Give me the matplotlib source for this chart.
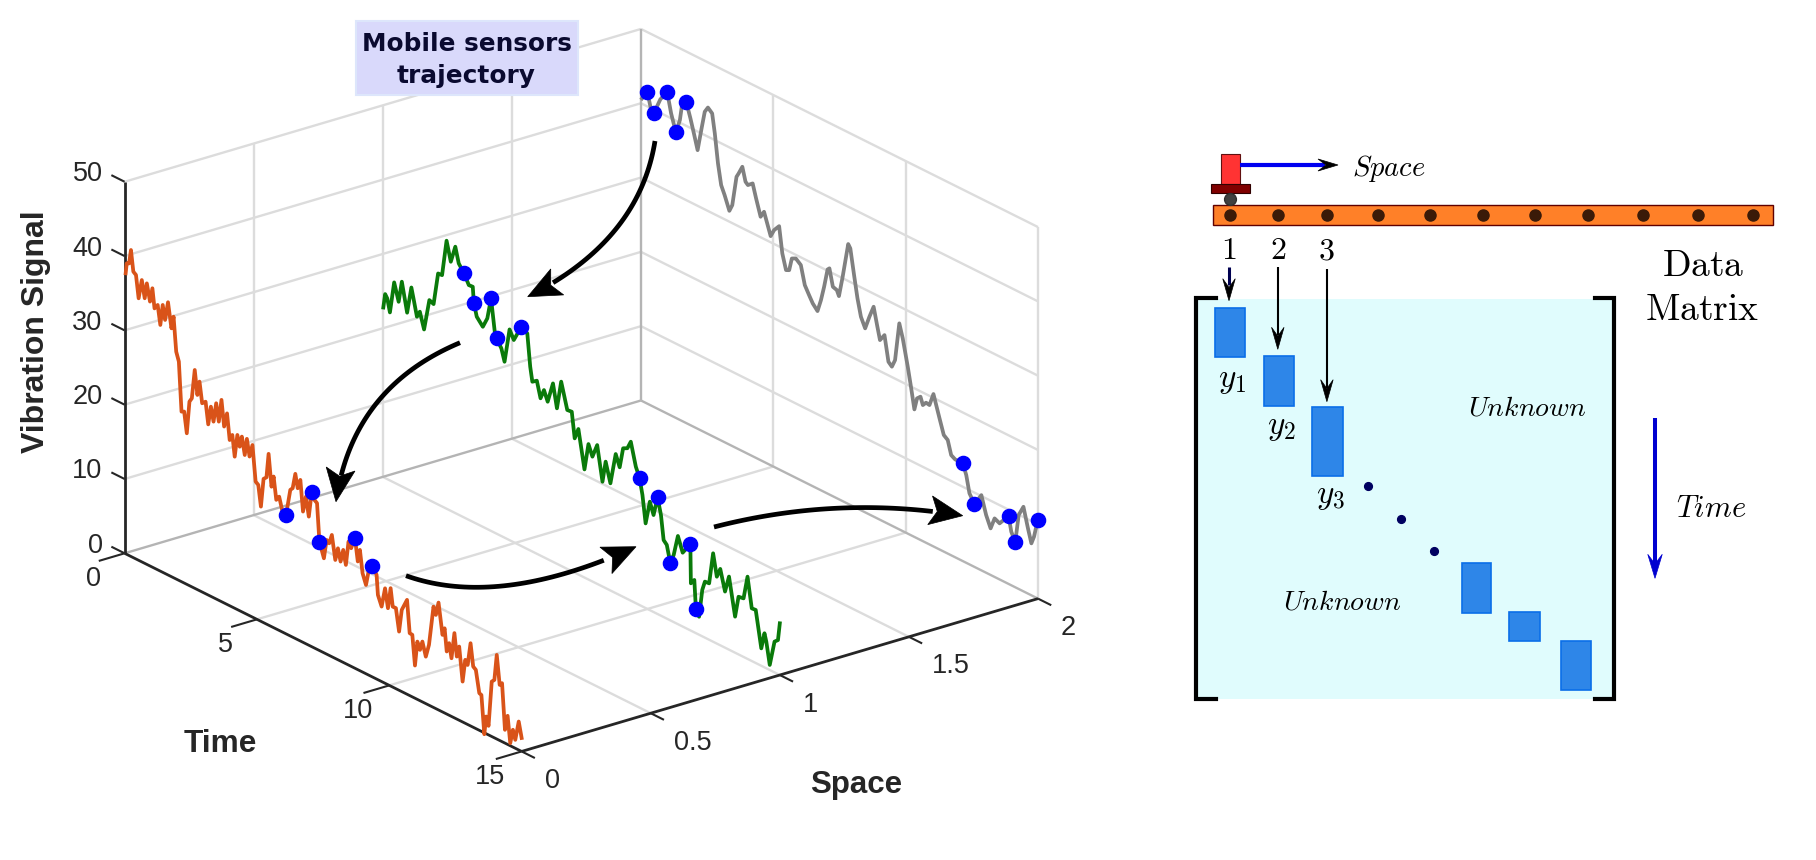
# Mobile sensor trajectories on the left (3D) and the data matrix sketch on the right
import numpy as np
import matplotlib
matplotlib.use("Agg")
import matplotlib.pyplot as plt
from matplotlib.patches import Rectangle, Polygon
from mpl_toolkits.mplot3d import proj3d

plt.rcParams['font.family'] = ['Liberation Sans', 'DejaVu Sans']
plt.rcParams['mathtext.fontset'] = 'cm'

# Trajectories. Each one sits at a fixed space position.
orange_space = 0
orange_time = [.04, .08, .17, .24, .33, .43, .53, .65, .76, .84, .96, 1.05, 1.13, 1.25, 1.35, 1.44, 1.53, 1.64, 1.77,
               1.85, 1.95, 2.05, 2.15, 2.25, 2.35, 2.45, 2.54, 2.65, 2.75, 2.83, 2.93, 3.06, 3.16, 3.26, 3.36, 3.46,
               3.56, 3.66, 3.76, 3.87, 3.97, 4.07, 4.16, 4.26, 4.35, 4.43, 4.54, 4.62, 4.72, 4.83, 4.95, 5.05, 5.15,
               5.25, 5.36, 5.44, 5.55, 5.63, 5.73, 5.84, 5.95, 6.10, 6.26, 6.35, 6.45, 6.54, 6.64, 6.74, 6.85, 6.96,
               7.07, 7.17, 7.27, 7.36, 7.53, 7.63, 7.73, 7.83, 7.96, 8.06, 8.16, 8.26, 8.36, 8.46, 8.56, 8.70, 8.81,
               8.89, 8.99, 9.12, 9.24, 9.36, 9.52, 9.57, 9.71, 9.84, 9.95, 10.05, 10.13, 10.25, 10.37, 10.47, 10.67,
               10.77, 10.87, 10.97, 11.06, 11.16, 11.25, 11.38, 11.50, 11.67, 11.76, 11.86, 12.01, 12.09, 12.17,
               12.26, 12.35, 12.46, 12.55, 12.64, 12.77, 12.87, 12.96, 13.07, 13.17, 13.27, 13.40, 13.48, 13.59,
               13.66, 13.75, 13.87, 13.97, 14.06, 14.17, 14.26, 14.37, 14.47, 14.57, 14.67, 14.76, 14.89, 15.0]
orange_vals = [37.75, 39.16, 39.32, 41.24, 38.49, 38.22, 35.26, 37.93, 35.67, 37.82, 35.58, 37.53, 34.97, 35.64, 33.13,
               35.98, 34.12, 36.70, 33.42, 35.13, 30.60, 29.44, 22.89, 23.07, 20.33, 24.77, 25.37, 29.38, 26.20, 28.13,
               25.40, 25.84, 22.97, 25.53, 23.69, 26.34, 24.05, 27.15, 23.74, 25.71, 22.30, 23.16, 20.40, 23.50, 22.08,
               23.58, 21.30, 23.61, 21.41, 23.16, 18.45, 18.18, 15.44, 19.35, 19.75, 23.05, 18.83, 20.34, 17.38, 18.00,
               16.41, 16.01, 19.66, 20.05, 22.16, 20.38, 21.68, 17.60, 19.80, 17.31, 20.88, 19.94, 19.67, 14.66, 12.71,
               15.36, 15.09, 16.39, 13.25, 15.00, 13.39, 15.14, 13.30, 16.62, 15.90, 17.58, 14.56, 16.26, 13.30, 11.95,
               14.42, 14.98, 14.02, 11.41, 10.09, 12.78, 10.30, 13.17, 10.83, 10.84, 7.90, 10.99, 12.70, 8.40, 8.35,
               4.40, 7.78, 6.84, 8.12, 6.32, 8.13, 13.57, 12.61, 14.45, 10.37, 11.40, 8.42, 9.70, 7.83, 11.41, 8.41,
               9.92, 5.44, 8.54, 8.01, 11.13, 8.17, 7.90, 5.00, 4.89, -0.19, 2.32, 1.22, 7.39, 7.79, 11.32, 7.48, 7.87,
               1.79, 3.85, 0.35, 2.33, 1.13, 3.83, 1.81]
orange_sensor_time = [6.10, 7.07, 7.36, 8.70, 9.36]
orange_sensor_vals = [16.01, 20.88, 14.66, 17.58, 14.98]

green_space = 1
green_time = [.02, .09, .17, .27, .43, .60, .72, .92, 1.08, 1.16, 1.29, 1.40, 1.56, 1.76, 1.92, 2.09, 2.24, 2.41, 2.57,
              2.74, 2.87, 3.07, 3.25, 3.40, 3.44, 3.55, 3.78, 3.95, 4.09, 4.23, 4.30, 4.48, 4.60, 4.79, 4.95, 5.22,
              5.46, 5.57, 5.65, 5.82, 5.96, 6.09, 6.23, 6.43, 6.58, 6.74, 6.97, 7.14, 7.25, 7.39, 7.62, 7.77, 7.92,
              8.10, 8.30, 8.42, 8.60, 8.80, 8.95, 9.08, 9.24, 9.37, 9.56, 9.70, 9.81, 9.93, 10.09, 10.23, 10.38, 10.51,
              10.61, 10.73, 10.86, 10.99, 11.15, 11.33, 11.62, 11.64, 11.77, 11.83, 11.95, 12.07, 12.17, 12.33, 12.48,
              12.62, 12.75, 12.93, 13.08, 13.31, 13.44, 13.63, 13.78, 13.94, 14.09, 14.30, 14.42, 14.49, 14.62, 14.80,
              14.93, 15.0]
green_vals = [22.83, 24.76, 24.31, 22.61, 26.94, 24.63, 27.55, 23.73, 27.41, 26.08, 23.85, 24.72, 22.61, 26.92, 26.67,
              31.09, 31.13, 36.07, 33.52, 35.85, 33.83, 32.84, 31.59, 31.63, 29.55, 27.87, 26.92, 28.36, 31.29, 27.06,
              26.27, 25.26, 23.67, 28.36, 27.22, 29.39, 29.01, 24.73, 22.85, 23.29, 21.17, 22.51, 21.19, 24.01, 20.92,
              24.80, 21.39, 21.46, 18.07, 19.58, 14.55, 18.23, 16.80, 18.68, 14.10, 17.02, 14.42, 18.72, 17.20, 19.99,
              20.28, 21.39, 18.37, 17.09, 15.01, 11.39, 14.60, 13.05, 15.70, 13.54, 10.36, 9.92, 7.76, 9.02, 11.87,
              9.94, 11.62, 6.37, 7.05, 3.21, 2.42, 6.24, 7.54, 7.59, 11.90, 9.00, 10.28, 7.55, 9.84, 4.85, 7.76, 7.88,
              11.07, 7.09, 7.14, 2.34, 4.59, 3.58, 0.68, 4.14, 4.58, 6.96]
green_sensor_time = [3.07, 3.44, 4.09, 4.30, 5.22, 9.70, 10.38, 10.86, 11.62, 11.83]
green_sensor_vals = [32.84, 29.55, 31.29, 26.27, 29.39, 17.09, 15.70, 7.76, 11.62, 3.21]

gray_space = 2
gray_time = [.04, .24, .36, .50, .63, .73, .99, 1.14, 1.32, 1.47, 1.56, 1.71, 1.87, 2.00, 2.14, 2.29, 2.41, 2.53, 2.69,
             2.79, 2.91, 3.03, 3.16, 3.34, 3.45, 3.61, 3.69, 3.83, 3.95, 4.04, 4.22, 4.35, 4.52, 4.65, 4.90, 5.03,
             5.22, 5.34, 5.48, 5.60, 5.70, 5.85, 6.04, 6.19, 6.35, 6.49, 6.67, 6.80, 6.92, 7.05, 7.12, 7.25, 7.40,
             7.48, 7.62, 7.83, 7.91, 8.06, 8.18, 8.31, 8.47, 8.63, 8.79, 8.92, 9.03, 9.20, 9.35, 9.48, 9.60, 9.76,
             9.89, 10.08, 10.20, 10.33, 10.43, 10.56, 10.65, 10.77, 10.90, 11.05, 11.28, 11.44, 11.59, 11.72, 11.87,
             12.16, 12.29, 12.41, 12.60, 12.86, 13.04, 13.21, 13.36, 13.55, 13.89, 13.99, 14.14, 14.27, 14.45, 14.62,
             14.75, 14.85, 14.99, 15.0]
gray_vals = [40.72, 41.97, 40.15, 39.60, 40.87, 41.81, 43.29, 40.65, 38.41, 40.34, 42.73, 43.23, 41.27, 39.49, 37.49,
             40.68, 43.14, 43.92, 43.41, 40.90, 37.07, 34.37, 33.26, 31.46, 32.42, 36.52, 37.11, 38.26, 36.46, 36.17,
             36.71, 34.92, 32.76, 33.66, 30.83, 31.87, 32.74, 29.29, 27.29, 27.49, 29.24, 29.51, 28.96, 26.53, 25.48,
             24.60, 23.89, 25.59, 27.61, 30.16, 30.44, 28.19, 28.01, 27.34, 30.19, 34.97, 34.52, 30.98, 28.28, 26.04,
             24.76, 26.60, 28.24, 26.00, 24.18, 25.15, 21.83, 21.40, 22.50, 27.73, 25.94, 22.45, 19.99, 17.16, 18.82,
             19.28, 18.31, 18.85, 18.76, 20.51, 17.64, 15.69, 15.28, 13.48, 13.17, 13.15, 11.80, 9.57, 8.47, 10.12,
             7.77, 6.27, 7.88, 7.55, 9.15, 7.22, 6.05, 9.95, 11.38, 8.79, 6.99, 8.07, 10.56, 9.79]
gray_sensor_time = [.24, .50, .99, 1.32, 1.71, 12.16, 12.60, 13.89, 14.14, 14.99]
gray_sensor_vals = [41.97, 39.60, 43.29, 38.41, 43.23, 13.15, 8.47, 9.15, 6.05, 10.56]

space_ticks = [0, 0.5, 1, 1.5, 2]
space_labels = ['0', '0.5', '1', '1.5', '2']
time_ticks = [0, 5, 10, 15]
value_ticks = [0, 10, 20, 30, 40, 50]

# Right hand sketch: sensor stops along the beam and the measured blocks of the matrix
beam_stops = [1230, 1278, 1327, 1378, 1429.5, 1483, 1535, 1588, 1642.5, 1697.5, 1752.5]
block_left = [1215.3, 1263.6, 1312, 1461.5, 1509.4, 1560.5]
block_right = [1244.5, 1293.6, 1342.7, 1490.8, 1539.8, 1590.5]
block_top = [308.3, 356.3, 407.3, 563.3, 612.3, 641.3]
block_bottom = [356.7, 405.7, 475.7, 612.7, 640.7, 689.7]
ellipsis_x = [1368.2, 1401, 1434.4]
ellipsis_y = [485.7, 518.7, 550.7]

fig = plt.figure(figsize=(18.16, 8.6), dpi=100)

ax = fig.add_axes([0, 0, 1, 1], projection='3d', proj_type='ortho', computed_zorder=False)
ax.set_xlim(0, 2)
ax.set_ylim(15, 0)
ax.set_zlim(0, 50)
ax.view_init(22.6, -127.6)
ax.set_box_aspect((651, 650, 402))
ax.set_axis_off()


def to_px(s, t, v):
    xp, yp, _ = proj3d.proj_transform(s, t, v, ax.get_proj())
    px, py = ax.transData.transform((xp, yp))
    return px, 860 - py


def place_axes(size, left, top):
    ax.set_position([left / 1816, 1 - (top + size) / 860, size / 1816, size / 860])
    ax.apply_aspect()


# Fit the 3D box on the wanted corners of the picture
size, left, top = 800.0, 100.0, 30.0
place_axes(size, left, top)
x0, y0 = to_px(0, 0, 0)
x1, y1 = to_px(2, 15, 0)
size = size * (1038 - 124.6) / (x1 - x0)
place_axes(size, left, top)
x0, y0 = to_px(0, 0, 0)
left += 124.6 - x0
top += 553.3 - y0
place_axes(size, left, top)


def line3d(xs, ys, zs, **kw):
    ax.plot(xs, ys, zs, clip_on=False, solid_capstyle='butt', **kw)


grid_kw = dict(color='#dcdcdc', lw=1.7, zorder=1)
edge_kw = dict(color='#b4b4b4', lw=1.7, zorder=2)
for v in value_ticks[1:]:
    line3d([0, 2], [0, 0], [v, v], **grid_kw)
    line3d([2, 2], [0, 15], [v, v], **grid_kw)
for s in space_ticks[1:-1]:
    line3d([s, s], [0, 0], [0, 50], **grid_kw)
    line3d([s, s], [0, 15], [0, 0], **grid_kw)
for t in time_ticks[1:]:
    line3d([2, 2], [t, t], [0, 50], **grid_kw)
    if t < 15:
        line3d([0, 2], [t, t], [0, 0], **grid_kw)
line3d([0, 2], [0, 0], [0, 0], **edge_kw)
line3d([2, 2], [0, 15], [0, 0], **edge_kw)
line3d([2, 2], [0, 0], [0, 50], **edge_kw)

axis_kw = dict(color='#262626', lw=2.0, zorder=3)
line3d([0, 0], [0, 0], [0, 50], **axis_kw)
line3d([0, 0], [0, 15], [0, 0], **axis_kw)
line3d([0, 2], [15, 15], [0, 0], **axis_kw)
tick_kw = dict(color='#262626', lw=1.5, zorder=3)
for v in value_ticks:
    line3d([0, 0], [0, -0.5], [v, v], **tick_kw)
for t in time_ticks:
    line3d([0, -0.1], [t, t], [0, 0], **tick_kw)
for s in space_ticks:
    line3d([s, s], [15, 15.5], [0, 0], **tick_kw)

for sp, tm, vl, col in [(orange_space, orange_time, orange_vals, '#d95319'),
                        (green_space, green_time, green_vals, '#0a7a0a'),
                        (gray_space, gray_time, gray_vals, '#808080')]:
    ax.plot(np.full(len(tm), sp), tm, vl, color=col, lw=2.7, clip_on=False, zorder=4)

for sp, tm, vl in [(orange_space, orange_sensor_time, orange_sensor_vals),
                   (green_space, green_sensor_time, green_sensor_vals),
                   (gray_space, gray_sensor_time, gray_sensor_vals)]:
    ax.plot(np.full(len(tm), sp), tm, vl, ls='none', marker='o', ms=10.2, mfc='#0000ff', mec='#0000ff',
            clip_on=False, zorder=5)

# Overlay in picture pixels for labels, arrows and the sketch
ov = fig.add_axes([0, 0, 1, 1], zorder=5)
ov.set_xlim(0, 1816)
ov.set_ylim(860, 0)
ov.axis('off')
ov.patch.set_visible(False)

txt = '#262626'
for v in value_ticks:
    px, py = to_px(0, 0, v)
    ov.text(px - 22, py - 7.5, str(v), ha='right', va='center', fontsize=19.5, color=txt)
for t in time_ticks:
    px, py = to_px(0, t, 0)
    ov.text(px - 31.6, py + 26, str(t), ha='center', va='center', fontsize=19.5, color=txt)
for s, lab in zip(space_ticks, space_labels):
    px, py = to_px(s, 15, 0)
    ov.text(px + 23, py + 29.5, lab, ha='left', va='center', fontsize=19.5, color=txt)

ov.text(36, 332, 'Vibration Signal', rotation=90, ha='center', va='center', fontsize=23, fontweight='bold', color=txt)
ov.text(220, 744, 'Time', ha='center', va='center', fontsize=22.8, fontweight='bold', color=txt)
ov.text(856, 785, 'Space', ha='center', va='center', fontsize=22.5, fontweight='bold', color=txt)

ov.add_patch(Rectangle((356, 21), 222, 74, fc='#d9d9fb', ec='#dde6fb', lw=1.5))
ov.text(466.5, 44, 'Mobile sensors', ha='center', va='center', fontsize=17.8, fontweight='bold',
        family='DejaVu Sans', color='#0a0a30')
ov.text(466.5, 76, 'trajectory', ha='center', va='center', fontsize=17.8, fontweight='bold',
        family='DejaVu Sans', color='#0a0a30')


def stealth(tip, direction, length, width, notch, color='black'):
    d = np.array(direction, dtype=float)
    d = d / np.hypot(*d)
    n = np.array([-d[1], d[0]])
    tip = np.array(tip, dtype=float)
    pts = [tip, tip - d * length + n * width / 2, tip - d * length * notch, tip - d * length - n * width / 2]
    ov.add_patch(Polygon(pts, closed=True, fc=color, ec=color, lw=0.5, zorder=6))


# Big curved arrows between the trajectories: start, bend point, tip
arrow_start = [(655, 141), (460, 342.7), (406, 575.7), (714, 527)]
arrow_bend = [(639, 241), (352, 388), (499, 609), (838, 495)]
arrow_tip = [(527.7, 296.7), (336, 501.7), (636, 546.7), (962.7, 515.7)]
u = np.linspace(0, 0.88, 40)
for st, bd, tp in zip(arrow_start, arrow_bend, arrow_tip):
    st, bd, tp = np.array(st), np.array(bd), np.array(tp)
    cur = np.outer((1 - u) ** 2, st) + np.outer(2 * u * (1 - u), bd) + np.outer(u ** 2, tp)
    ov.plot(cur[:, 0], cur[:, 1], color='black', lw=3.4, solid_capstyle='butt', zorder=6)
    stealth(tp, tp - bd, 33, 29, 0.78)

# Beam with the moving sensor
ov.add_patch(Rectangle((1213, 205.3), 559.7, 19.4, fc='#ff8028', ec='#600000', lw=1))
ov.plot(beam_stops, [214.7] * len(beam_stops), ls='none', marker='o', ms=8, mfc='#3a1a08', mec='#3a1a08')
ov.add_patch(Rectangle((1220.6, 154.3), 19, 30, fc='#ff3333', ec='#601010', lw=0.8))
ov.add_patch(Rectangle((1211, 184.3), 39, 9, fc='#800000', ec='#300000', lw=0.8))
ov.plot([1230], [199], marker='o', ms=8.5, mfc='#404040', mec='#303030')
ov.plot([1239.6, 1325], [165, 165], color='#0000f0', lw=3, solid_capstyle='butt')
stealth((1338, 165), (1, 0), 20, 12, 0.6)
ov.text(1389, 168, r'$Space$', ha='center', va='center', fontsize=20.5, color='black')

# Data matrix
ov.add_patch(Rectangle((1196, 299), 418, 400, fc='#e0fcfd', ec='none'))
ov.plot([1215.7, 1196, 1196, 1215.7], [298.3, 298.3, 699.3, 699.3], color='black', lw=3, solid_joinstyle='miter')
ov.plot([1594.6, 1614, 1614, 1594.6], [298.3, 298.3, 699.3, 699.3], color='black', lw=3, solid_joinstyle='miter')
for l, r, tp, bt in zip(block_left, block_right, block_top, block_bottom):
    ov.add_patch(Rectangle((l, tp), r - l, bt - tp, fc='#2e86e8', ec='#0a6ee8', lw=1.2))
ov.plot(ellipsis_x, ellipsis_y, ls='none', marker='o', ms=5.6, mfc='#000060', mec='#000060')

for lab, xc in zip(['1', '2', '3'], [1228.3, 1277.8, 1326.5]):
    ov.text(xc, 251, r'$\mathrm{%s}$' % lab, ha='center', va='center', fontsize=23, color='black')
ov.plot([1229, 1229], [267.3, 285], color='#000050', lw=2.2, solid_capstyle='butt')
stealth((1229, 300.7), (0, 1), 22, 12.5, 0.6)
ov.plot([1277.8, 1277.8], [266.7, 335], color='black', lw=1.5, solid_capstyle='butt')
stealth((1277.8, 349.3), (0, 1), 22, 12.5, 0.6)
ov.plot([1326.9, 1326.9], [269.3, 388], color='black', lw=1.5, solid_capstyle='butt')
stealth((1326.9, 401.7), (0, 1), 22, 12.5, 0.6)

ov.text(1232, 380, r'$y_1$', ha='center', va='center', fontsize=24, color='black')
ov.text(1281, 427.3, r'$y_2$', ha='center', va='center', fontsize=24, color='black')
ov.text(1330, 496.7, r'$y_3$', ha='center', va='center', fontsize=24, color='black')
ov.text(1526.7, 409, r'$Unknown$', ha='center', va='center', fontsize=20, color='black')
ov.text(1341.7, 603, r'$Unknown$', ha='center', va='center', fontsize=20, color='black')
ov.text(1703, 266, r'$\mathrm{Data}$', ha='center', va='center', fontsize=27, color='black')
ov.text(1701.7, 310, r'$\mathrm{Matrix}$', ha='center', va='center', fontsize=27, color='black')

ov.plot([1655, 1655], [418, 565], color='#0000d0', lw=2.9, solid_capstyle='butt')
stealth((1655, 578.3), (0, 1), 24, 14.5, 0.6, color='#0000d0')
ov.text(1711, 509, r'$Time$', ha='center', va='center', fontsize=22, color='black')

fig.savefig('out.png', dpi=100)
